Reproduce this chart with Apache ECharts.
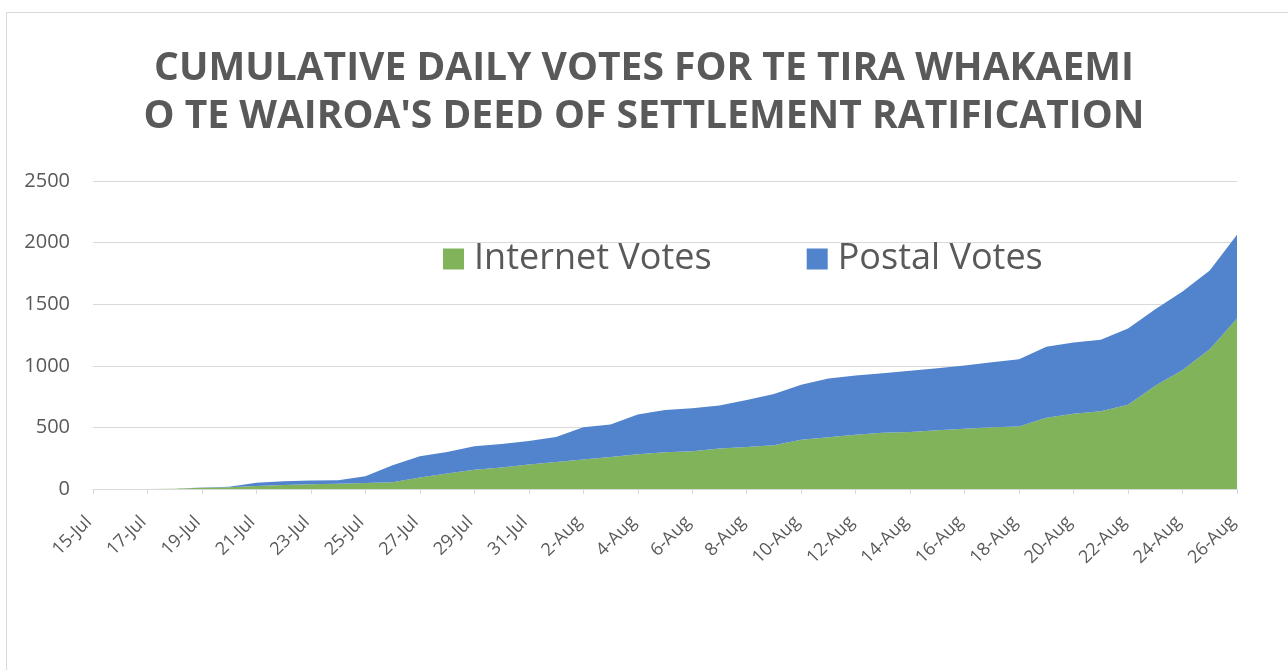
<!DOCTYPE html>
<html>
<head>
<meta charset="utf-8">
<script src="https://cdn.jsdelivr.net/npm/echarts@6/dist/echarts.min.js"></script>
<style>html,body{margin:0;padding:0;background:#fff;}#c{width:1288px;height:670px;}</style>
</head>
<body>
<div id="c"></div>
<script>
var dates = ['15-Jul','16-Jul','17-Jul','18-Jul','19-Jul','20-Jul','21-Jul','22-Jul','23-Jul','24-Jul','25-Jul','26-Jul','27-Jul','28-Jul','29-Jul','30-Jul','31-Jul',
  '1-Aug','2-Aug','3-Aug','4-Aug','5-Aug','6-Aug','7-Aug','8-Aug','9-Aug','10-Aug','11-Aug','12-Aug','13-Aug','14-Aug','15-Aug','16-Aug','17-Aug','18-Aug','19-Aug','20-Aug','21-Aug','22-Aug','23-Aug','24-Aug','25-Aug','26-Aug'];
var internetVotes = [0,0,0,3,10,15,24,32,38,42,48,54,94,126,157,175,199,220,239,260,282,298,306,328,341,355,400,421,440,457,462,476,489,502,508,578,610,631,683,838,965,1135,1384];
var postalVotes = [0,0,0,0,2,3,27,30,30,30,56,139,172,174,190,190,190,202,263,263,323,344,349,349,382,416,446,476,482,483,497,505,513,527,545,577,580,580,620,620,639,639,679];
var yTicks = [0,500,1000,1500,2000,2500];

var chart = echarts.init(document.getElementById('c'));
var txt = '#595959';
chart.setOption({
  backgroundColor: '#fff',
  animation: false,
  graphic: [{
    type: 'rect', shape: {x: 6.5, y: 12.5, width: 1300, height: 700},
    style: {fill: 'none', stroke: '#d9d9d9', lineWidth: 1}, silent: true
  }],
  title: {
    text: "CUMULATIVE DAILY VOTES FOR TE TIRA WHAKAEMI\nO TE WAIROA'S DEED OF SETTLEMENT RATIFICATION",
    left: 'center', top: 40,
    textStyle: {fontFamily: 'Open Sans', fontWeight: 'bold', fontSize: 39, color: txt, lineHeight: 48, align: 'center'}
  },
  legend: {
    left: 443, top: 241, padding: 0,
    itemWidth: 21, itemHeight: 21, itemGap: 95,
    icon: 'rect',
    textStyle: {fontFamily: 'Open Sans', fontSize: 36, color: txt, padding: [0,0,0,5]},
    data: ['Internet Votes', 'Postal Votes']
  },
  grid: {left: 93, right: 51, top: 181, bottom: 181},
  xAxis: {
    type: 'category', data: dates, boundaryGap: false,
    axisLine: {lineStyle: {color: '#d9d9d9'}},
    axisTick: {show: true, interval: 1, length: 5, lineStyle: {color: '#d9d9d9'}},
    axisLabel: {interval: 1, rotate: 45, color: txt, fontFamily: 'Open Sans', fontSize: 18, margin: 26, padding: [23, 6, 0, 0]}
  },
  yAxis: {
    type: 'value', min: yTicks[0], max: yTicks[yTicks.length-1], interval: 500,
    axisLine: {show: false}, axisTick: {show: false},
    axisLabel: {color: txt, fontFamily: 'Open Sans', fontSize: 20, margin: 23, formatter: function (v) { return String(v); }},
    splitLine: {lineStyle: {color: '#d9d9d9'}}
  },
  series: [
    {name: 'Internet Votes', type: 'line', stack: 'total', data: internetVotes, symbol: 'none',
     lineStyle: {width: 0}, areaStyle: {color: '#80B35A', opacity: 1}, itemStyle: {color: '#80B35A'}},
    {name: 'Postal Votes', type: 'line', stack: 'total', data: postalVotes, symbol: 'none',
     lineStyle: {width: 0}, areaStyle: {color: '#5184CD', opacity: 1}, itemStyle: {color: '#5184CD'}}
  ]
});
</script>
</body>
</html>
